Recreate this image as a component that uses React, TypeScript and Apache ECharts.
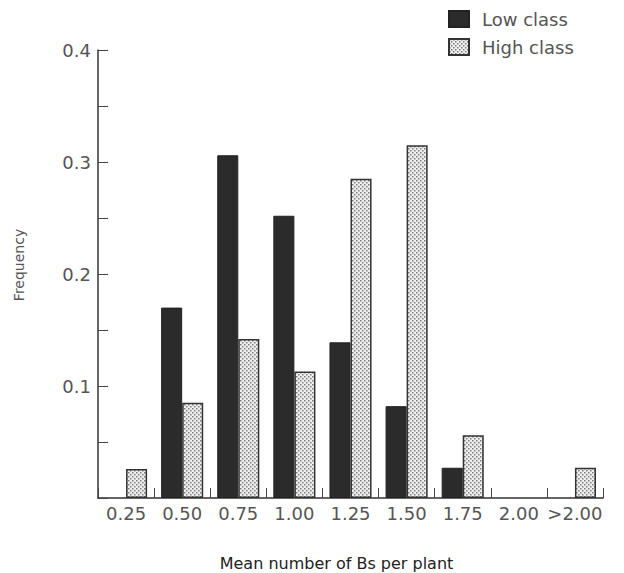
import React, { useEffect, useRef } from "react";
import * as echarts from "echarts";

const categories = ["0.25", "0.50", "0.75", "1.00", "1.25", "1.50", "1.75", "2.00", ">2.00"];
const lowClass: (number | string)[] = ["-", 0.17, 0.306, 0.252, 0.139, 0.082, 0.027, "-", "-"];
const highClass: (number | string)[] = [0.026, 0.085, 0.142, 0.113, 0.285, 0.315, 0.056, "-", 0.027];
const seriesNames = ["Low class", "High class"];
const yTicks = [0, 0.1, 0.2, 0.3, 0.4];

function makePattern(): HTMLCanvasElement {
  const c = document.createElement("canvas");
  c.width = 4;
  c.height = 4;
  const ctx = c.getContext("2d")!;
  ctx.fillStyle = "#f0f0f0";
  ctx.fillRect(0, 0, 4, 4);
  ctx.fillStyle = "#7a7a7a";
  ctx.fillRect(0, 0, 1.5, 1.5);
  ctx.fillRect(2, 2, 1.5, 1.5);
  return c;
}

export default function App() {
  const ref = useRef<HTMLDivElement>(null);
  useEffect(() => {
    const chart = echarts.init(ref.current!, undefined, { renderer: "svg" });
    const pattern = { image: makePattern(), repeat: "repeat" };
    const font = "DejaVu Sans";
    chart.setOption({
      animation: false,
      backgroundColor: "#ffffff",
      textStyle: { fontFamily: font },
      legend: {
        orient: "vertical",
        left: 448,
        top: 10,
        padding: 0,
        itemWidth: 20,
        itemHeight: 16,
        itemGap: 10,
        icon: "rect",
        textStyle: { fontSize: 18, color: "#555", fontFamily: font, padding: [0, 0, 0, 8] },
        data: seriesNames,
      },
      grid: { left: 98, right: 21, top: 50, bottom: 75, outerBoundsMode: "none", containLabel: false },
      xAxis: [
        {
          type: "category",
          data: categories,
          name: "Mean number of Bs per plant",
          nameLocation: "middle",
          nameGap: 57,
          nameTextStyle: { fontSize: 16, color: "#222", fontFamily: font, padding: [0, 28, 0, 0] },
          axisLine: { lineStyle: { color: "#333", width: 1.5 } },
          axisTick: { show: false },
          axisLabel: { interval: 0, hideOverlap: false, fontSize: 18, color: "#555", margin: 6, fontFamily: font },
        },
        {
          type: "value",
          position: "bottom",
          min: 0,
          max: categories.length,
          interval: 1,
          axisLine: { show: false },
          axisTick: { show: true, inside: true, length: 10, lineStyle: { color: "#444", width: 1 } },
          axisLabel: { show: false },
          splitLine: { show: false },
        },
      ],
      yAxis: {
        type: "value",
        min: yTicks[0],
        max: yTicks[yTicks.length - 1],
        interval: 0.1,
        name: "Frequency",
        nameLocation: "middle",
        nameGap: 72,
        nameTextStyle: { fontSize: 14, color: "#555", fontFamily: font, padding: [0, 0, 0, 18] },
        axisLine: { show: true, lineStyle: { color: "#333", width: 1.5 } },
        axisTick: { show: true, inside: true, length: 10, lineStyle: { color: "#444", width: 1 } },
        minorTick: { show: true, splitNumber: 2, length: 10, lineStyle: { color: "#444", width: 1 } },
        splitLine: { show: false },
        axisLabel: {
          fontSize: 18,
          color: "#555",
          margin: 7,
          fontFamily: font,
          formatter: (v: number) => (v === 0 ? "" : v.toFixed(1)),
        },
      },
      series: [
        {
          name: seriesNames[0],
          type: "bar",
          xAxisIndex: 0,
          data: lowClass,
          barGap: "0%",
          barCategoryGap: "25%",
          itemStyle: { color: "#2b2b2b", borderColor: "#222", borderWidth: 1 },
        },
        {
          name: seriesNames[1],
          type: "bar",
          xAxisIndex: 0,
          data: highClass,
          barGap: "0%",
          barCategoryGap: "25%",
          itemStyle: { color: pattern, borderColor: "#333", borderWidth: 1.5 },
        },
      ],
    });
    return () => chart.dispose();
  }, []);
  return (
    <div
      ref={ref}
      style={{ position: "absolute", left: 0, top: 0, width: 624, height: 573 }}
    />
  );
}
